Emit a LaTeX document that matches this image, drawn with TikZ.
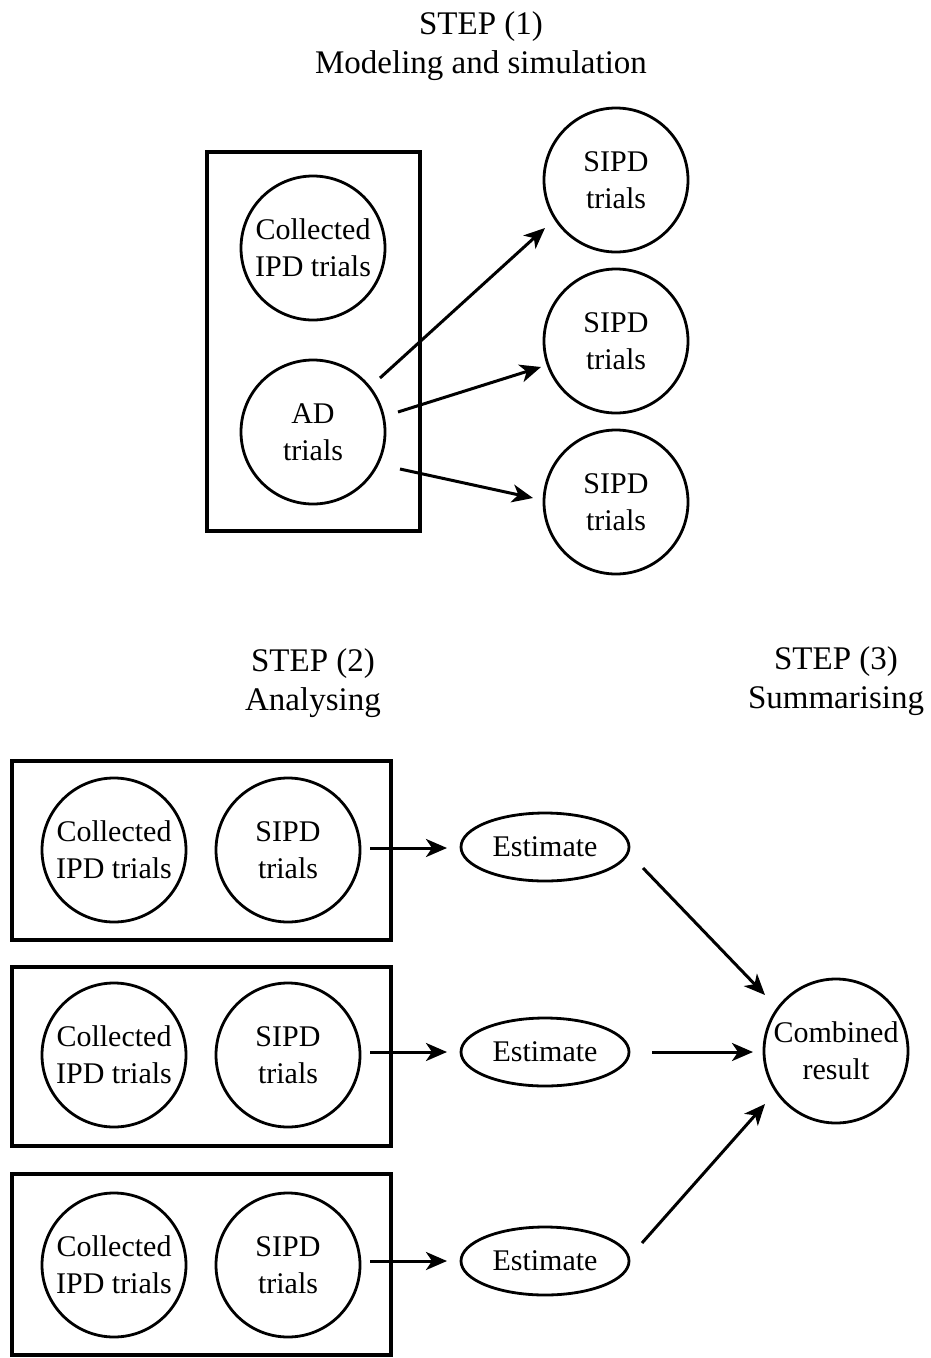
\documentclass[tikz,border=0pt]{standalone}
\usepackage{fontspec}
\setmainfont{Liberation Serif}
\usetikzlibrary{shapes.geometric,arrows.meta}
\tikzset{
  circ/.style={draw, circle, minimum size=144pt, inner sep=0pt, line width=2.8pt},
  lbl/.style={align=center, font=\fontsize{30}{37}\selectfont, inner sep=0pt},
  boxnode/.style={draw, rectangle, line width=3.6pt, inner sep=0pt},
  est/.style={draw, ellipse, minimum width=168pt, minimum height=68pt, inner sep=0pt, line width=2.8pt, font=\fontsize{30}{37}\selectfont},
  title/.style={align=center, font=\fontsize{33}{39}\selectfont, inner sep=0pt},
  arr/.style={-{Stealth[length=21pt,width=18pt,inset=6pt]}, line width=3pt}
}
\begin{document}
\begin{tikzpicture}[x=1pt,y=-1pt]
\useasboundingbox (0,0) rectangle (931,1358);
% Step 1
\node[title] (t1) at (481,46) {STEP (1)\\Modeling and simulation};
\node[boxnode, minimum width=213pt, minimum height=379pt] (B1) at (313.5,341.5) {};
\node[circ, label={[lbl]center:Collected\\IPD trials}] (CI) at (313,248) {};
\node[circ, label={[lbl]center:AD\\trials}] (AD) at (313,432) {};
\node[circ, label={[lbl]center:SIPD\\trials}] (S1) at (616,180) {};
\node[circ, label={[lbl]center:SIPD\\trials}] (S2) at (616,341) {};
\node[circ, label={[lbl]center:SIPD\\trials}] (S3) at (616,502) {};
\draw[arr] ([shift={(67,-54)}]AD.center) -- ([shift={(-71,48)}]S1.center);
\draw[arr] ([shift={(85,-20)}]AD.center) -- ([shift={(-75,26)}]S2.center);
\draw[arr] ([shift={(87,37)}]AD.center) -- ([shift={(-83,-4)}]S3.center);
% Step 2 and 3 titles
\node[title] (t2) at (313,683) {STEP (2)\\Analysing};
\node[title] (t3) at (836,681) {STEP (3)\\Summarising};
% rows
\node[boxnode, minimum width=379pt, minimum height=179pt] (BA) at (201.5,850.5) {};
\node[boxnode, minimum width=379pt, minimum height=179pt] (BB) at (201.5,1056.5) {};
\node[boxnode, minimum width=379pt, minimum height=181pt] (BC) at (201.5,1264.5) {};
\node[circ, label={[lbl]center:Collected\\IPD trials}] (CA) at (114,850) {};
\node[circ, label={[lbl]center:SIPD\\trials}] (SA) at (288,850) {};
\node[circ, label={[lbl]center:Collected\\IPD trials}] (CB) at (114,1055) {};
\node[circ, label={[lbl]center:SIPD\\trials}] (SB) at (288,1055) {};
\node[circ, label={[lbl]center:Collected\\IPD trials}] (CC) at (114,1265) {};
\node[circ, label={[lbl]center:SIPD\\trials}] (SC) at (288,1265) {};
\node[est] (E1) at (545,847) {Estimate};
\node[est] (E2) at (545,1052) {Estimate};
\node[est] (E3) at (545,1261) {Estimate};
\node[circ, label={[lbl]center:Combined\\result}] (CR) at (836,1051) {};
\draw[arr] ([shift={(82,-2)}]SA.center) -- ([shift={(-98,1)}]E1.center);
\draw[arr] ([shift={(82,-3)}]SB.center) -- ([shift={(-98,0)}]E2.center);
\draw[arr] ([shift={(82,-4)}]SC.center) -- ([shift={(-98,0)}]E3.center);
\draw[arr] ([shift={(98,21)}]E1.center) -- ([shift={(-71,-56)}]CR.center);
\draw[arr] ([shift={(107,0)}]E2.center) -- ([shift={(-83,1)}]CR.center);
\draw[arr] ([shift={(97,-18)}]E3.center) -- ([shift={(-71,53)}]CR.center);
\end{tikzpicture}
\end{document}
